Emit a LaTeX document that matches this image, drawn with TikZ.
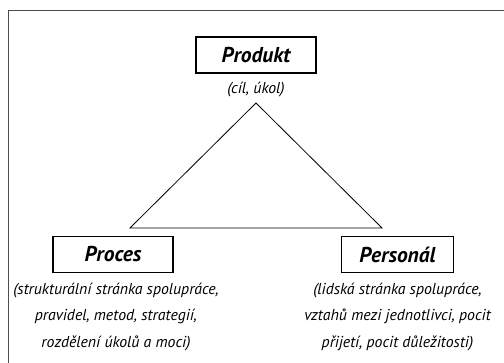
\documentclass[tikz,border=0pt]{standalone}
\usepackage{fontspec}
\setmainfont{PT Sans}
\usetikzlibrary{positioning}

\begin{document}
\begin{tikzpicture}[x=1pt,y=1pt,
  box/.style={draw, line width=1.2pt, minimum height=36pt, inner sep=0pt,
    font=\fontsize{21.5}{24}\selectfont\bfseries\itshape},
  popis/.style={align=center, inner sep=0pt,
    font=\fontsize{15.8}{26.5}\selectfont\itshape}]
         \useasboundingbox (0,0) rectangle (504,363);
         \draw[line width=1.4pt, black!70] (504,352.5) -- (8.5,352.5) -- (8.5,0);
         % vrcholy
         \node[box, minimum width=120pt] (produkt) at (256,308) {Produkt};
         \node[box, minimum width=120pt] (proces) at (113,108.5) {Proces};
         \node[box, minimum width=112pt] (personal) at (397.5,108.5) {Personál};
         % popisky
         \node[popis] (cil) at (256,273) {(cíl, úkol)};
         \node[popis] (procesPopis) at (116,46) {(strukturální stránka spolupráce,\\ pravidel, metod, strategií,\\ rozdělení úkolů a moci)};
         \node[popis] (personalPopis) at (397.5,46) {(lidská stránka spolupráce,\\ vztahů mezi jednotlivci, pocit\\ přijetí, pocit důležitosti)};
         % trojuhelnik
         \coordinate (A) at (256,260);
         \coordinate (B) at (130,135);
         \coordinate (C) at (382,135);
         \draw[line width=0.8pt] (A) -- (B) -- (C) -- cycle;
\end{tikzpicture}
\end{document}
